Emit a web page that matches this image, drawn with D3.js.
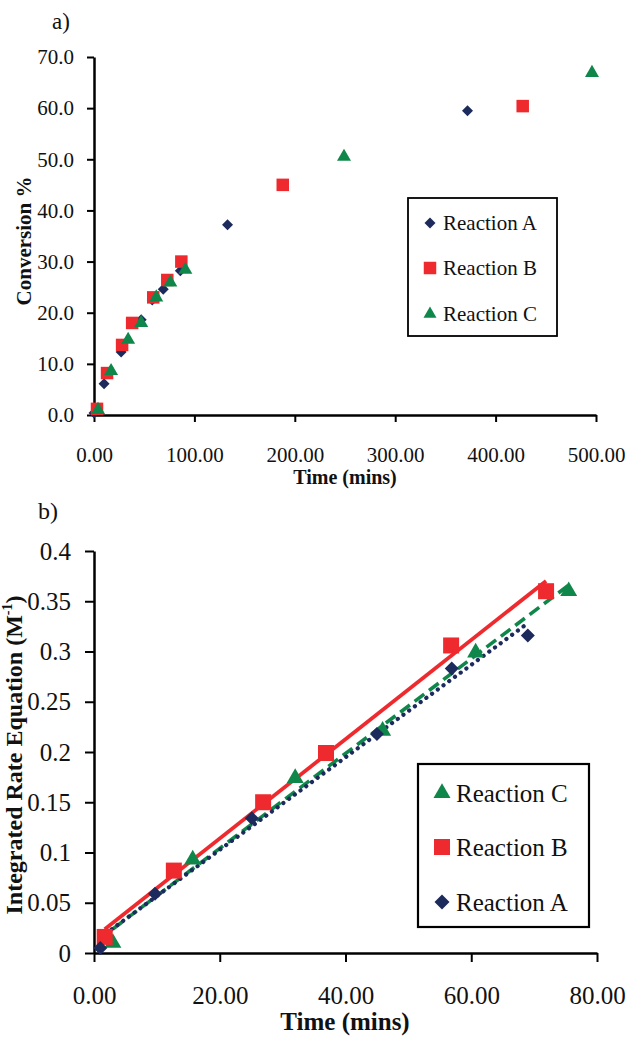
<!DOCTYPE html>
<html lang="en">
<head>
  <meta charset="UTF-8">
  <title>Conversion and integrated rate plots</title>
  <script src="https://d3js.org/d3.v7.min.js"></script>
  <style>
    body {
      margin: 0;
      background: #fff;
    }
    svg {
      display: block;
      font-family: "Liberation Serif", "Times New Roman", serif;
    }
  </style>
</head>
<body>
  <script>
    // a) conversion % against time
    const seriesNames = ["Reaction A", "Reaction B", "Reaction C"];
    const convTimeA = [0, 10, 27, 47, 58, 69, 86, 133, 372];
    const convA = [0.4, 6.1, 12.3, 18.6, 22.5, 24.6, 28.2, 37.2, 59.5];
    const convTimeB = [3, 13, 28, 38, 59, 73, 87, 188, 427];
    const convB = [1.2, 8.2, 13.7, 18.0, 23.0, 26.4, 30.0, 45.0, 60.4];
    const convTimeC = [4, 17, 34, 47, 62, 76, 91, 249, 496];
    const convC = [1.0, 8.6, 14.7, 18.0, 23.0, 25.9, 28.4, 50.5, 66.9];
    const convYTicks = [0, 10, 20, 30, 40, 50, 60, 70];
    const convXTicks = [0, 100, 200, 300, 400, 500];

    // b) integrated rate equation against time
    const rateTimeA = [1.0, 9.7, 25.1, 45.0, 56.9, 69.0];
    const rateA = [0.005, 0.059, 0.134, 0.218, 0.283, 0.316];
    const rateTimeB = [1.7, 12.7, 26.9, 36.9, 56.8, 71.9];
    const rateB = [0.016, 0.082, 0.150, 0.199, 0.306, 0.360];
    const rateTimeC = [3.0, 15.7, 32.0, 45.9, 60.7, 75.5];
    const rateC = [0.010, 0.093, 0.174, 0.221, 0.299, 0.360];
    const rateYTicks = [0, 0.05, 0.1, 0.15, 0.2, 0.25, 0.3, 0.35, 0.4];
    const rateXTicks = [0, 20, 40, 60, 80];

    const colors = { A: "#1d2a5c", B: "#ee2a2e", C: "#10874a" };

    const width = 628;
    const height = 1037;

    const svg = d3.select("body")
      .append("svg")
      .attr("width", width)
      .attr("height", height);

    const zip = (xs, ys) => xs.map((x, i) => ({ x, y: ys[i] }));

    // diamond = square turned 45deg, so the size is given as the diagonal
    function marker(kind, s) {
      if (kind === "A") return d3.symbol(d3.symbolSquare, s * s / 2)();
      if (kind === "B") return d3.symbol(d3.symbolSquare, s * s)();
      return d3.symbol(d3.symbolTriangle, Math.sqrt(3) / 4 * s * s)();
    }
    const markerTransform = (kind, x, y) =>
      `translate(${x},${y})` + (kind === "A" ? " rotate(45)" : "");

    function drawAxes(g, x, y, opts) {
      const xAxis = g.append("g")
        .attr("transform", `translate(0,${y.range()[0]})`)
        .call(d3.axisBottom(x).tickValues(opts.xTicks).tickFormat(d3.format(".2f"))
          .tickSize(opts.tick).tickSizeOuter(0).tickPadding(opts.xPad));
      const yAxis = g.append("g")
        .attr("transform", `translate(${x.range()[0]},0)`)
        .call(d3.axisLeft(y).tickValues(opts.yTicks).tickFormat(opts.yFormat)
          .tickSize(opts.tick).tickSizeOuter(0).tickPadding(opts.yPad));
      [xAxis, yAxis].forEach(a => {
        a.select(".domain").attr("stroke", "#000").attr("stroke-width", 2.5);
        a.selectAll(".tick line").attr("stroke", "#000").attr("stroke-width", 2);
        a.selectAll(".tick text")
          .attr("font-family", "Liberation Serif")
          .attr("font-size", opts.fontSize)
          .attr("fill", "#111");
      });
    }

    function drawLegend(g, box, entries, fontSize) {
      g.append("rect")
        .attr("x", box.x).attr("y", box.y)
        .attr("width", box.w).attr("height", box.h)
        .attr("fill", "#fff").attr("stroke", "#000").attr("stroke-width", box.sw);
      entries.forEach((e, i) => {
        const cy = box.rowY[i];
        g.append("path")
          .attr("d", marker(e.kind, e.size))
          .attr("transform", markerTransform(e.kind, box.markerX, cy))
          .attr("fill", colors[e.kind]);
        g.append("text")
          .attr("x", box.textX)
          .attr("y", cy + fontSize * 0.34)
          .attr("font-size", fontSize)
          .attr("fill", "#111")
          .text(e.name);
      });
    }

    // ---------- panel a ----------
    const ga = svg.append("g");
    const xa = d3.scaleLinear().domain([0, 500]).range([94, 596]);
    const ya = d3.scaleLinear().domain([0, 70]).range([415, 57]);

    drawAxes(ga, xa, ya, {
      xTicks: convXTicks, yTicks: convYTicks, tick: 7,
      yFormat: d3.format(".1f"), fontSize: 21, xPad: 25, yPad: 13
    });

    const convSeries = [
      { kind: "A", pts: zip(convTimeA, convA), size: 11 },
      { kind: "B", pts: zip(convTimeB, convB), size: 12.5 },
      { kind: "C", pts: zip(convTimeC, convC), size: 14 }
    ];
    convSeries.forEach(s => {
      ga.append("g").selectAll("path")
        .data(s.pts)
        .join("path")
        .attr("d", marker(s.kind, s.size))
        .attr("transform", d => markerTransform(s.kind, xa(d.x), ya(d.y)))
        .attr("fill", colors[s.kind]);
    });

    ga.append("text")
      .attr("x", 52).attr("y", 29)
      .attr("font-size", 23).attr("fill", "#111")
      .text("a)");
    ga.append("text")
      .attr("x", 345).attr("y", 484)
      .attr("text-anchor", "middle")
      .attr("font-size", 20).attr("font-weight", "bold").attr("fill", "#111")
      .text("Time (mins)");
    ga.append("text")
      .attr("transform", "translate(31,241) rotate(-90)")
      .attr("text-anchor", "middle")
      .attr("font-size", 21).attr("font-weight", "bold").attr("fill", "#111")
      .text("Conversion %");

    drawLegend(ga, {
      x: 408, y: 198, w: 149, h: 138, sw: 1.8,
      markerX: 430, textX: 443, rowY: [223, 268, 314]
    }, [
      { kind: "A", name: seriesNames[0], size: 11 },
      { kind: "B", name: seriesNames[1], size: 12.5 },
      { kind: "C", name: seriesNames[2], size: 13 }
    ], 21);

    // ---------- panel b ----------
    const gb = svg.append("g");
    const xb = d3.scaleLinear().domain([0, 80]).range([94, 597]);
    const yb = d3.scaleLinear().domain([0, 0.4]).range([953, 551]);

    drawAxes(gb, xb, yb, {
      xTicks: rateXTicks, yTicks: rateYTicks, tick: 9,
      yFormat: d => String(+d.toFixed(2)), fontSize: 25, xPad: 24, yPad: 14
    });

    function linearFit(xs, ys) {
      const mx = d3.mean(xs), my = d3.mean(ys);
      const sxy = d3.sum(xs, (x, i) => (x - mx) * (ys[i] - my));
      const sxx = d3.sum(xs, x => (x - mx) * (x - mx));
      const slope = sxy / sxx;
      return { slope, intercept: my - slope * mx };
    }

    const rateSeries = [
      { kind: "C", xs: rateTimeC, ys: rateC, size: 17, dash: "12,6", cap: "butt", w: 3.6 },
      { kind: "B", xs: rateTimeB, ys: rateB, size: 16, dash: null, cap: "butt", w: 3.8 },
      { kind: "A", xs: rateTimeA, ys: rateA, size: 14, dash: "0.1,7", cap: "round", w: 4.2 }
    ];

    // trend lines under the markers
    rateSeries.forEach(s => {
      const fit = linearFit(s.xs, s.ys);
      const ends = d3.extent(s.xs).map(t => ({ x: t, y: fit.intercept + fit.slope * t }));
      gb.append("path")
        .datum(ends)
        .attr("d", d3.line().x(d => xb(d.x)).y(d => yb(d.y)))
        .attr("fill", "none")
        .attr("stroke", colors[s.kind])
        .attr("stroke-width", s.w)
        .attr("stroke-linecap", s.cap)
        .attr("stroke-dasharray", s.dash);
    });

    rateSeries.forEach(s => {
      gb.append("g").selectAll("path")
        .data(zip(s.xs, s.ys))
        .join("path")
        .attr("d", marker(s.kind, s.size))
        .attr("transform", d => markerTransform(s.kind, xb(d.x), yb(d.y)))
        .attr("fill", colors[s.kind]);
    });

    gb.append("text")
      .attr("x", 38).attr("y", 519)
      .attr("font-size", 24).attr("fill", "#111")
      .text("b)");
    gb.append("text")
      .attr("x", 345).attr("y", 1030)
      .attr("text-anchor", "middle")
      .attr("font-size", 25).attr("font-weight", "bold").attr("fill", "#111")
      .text("Time (mins)");

    const yTitle = gb.append("text")
      .attr("transform", "translate(22,755) rotate(-90)")
      .attr("text-anchor", "middle")
      .attr("font-size", 24).attr("font-weight", "bold").attr("fill", "#111");
    yTitle.append("tspan").text("Integrated Rate Equation (M");
    yTitle.append("tspan").attr("font-size", 14).attr("dy", -10).text("-1");
    yTitle.append("tspan").attr("dy", 10).text(")");

    drawLegend(gb, {
      x: 418, y: 764, w: 171, h: 163, sw: 2.2,
      markerX: 442, textX: 456, rowY: [793, 847, 902]
    }, [
      { kind: "C", name: seriesNames[2], size: 17 },
      { kind: "B", name: seriesNames[1], size: 16 },
      { kind: "A", name: seriesNames[0], size: 15 }
    ], 25);
  </script>
</body>
</html>
